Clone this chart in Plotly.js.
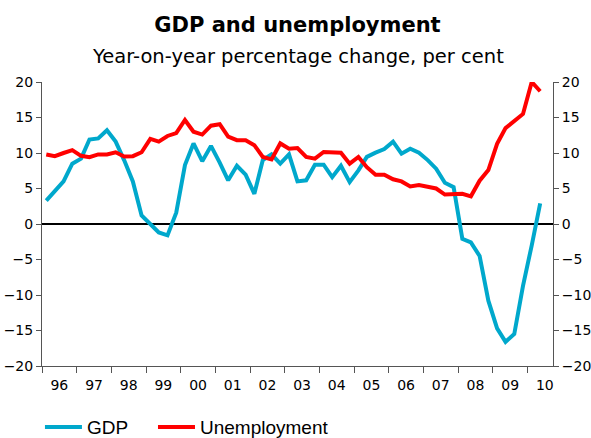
<!DOCTYPE html>
<html>
<head>
<meta charset="utf-8">
<script src="https://cdn.plot.ly/plotly-3.0.1.min.js"></script>
<style>
  html, body { margin: 0; padding: 0; background: #fff; }
  #chart { width: 591px; height: 438px; }
</style>
</head>
<body>
<div id="chart"></div>
<script>
// Quarterly data, 1996Q1 - 2010Q2
const startYear = 1996;
const nQuarters = 58;

const gdp = [
  3.3, 4.7, 6.0, 8.5, 9.2, 11.9, 12.05, 13.2, 11.6, 9.0,
  6.0, 1.2, 0.0, -1.2, -1.6, 1.6, 8.3, 11.35, 8.85, 11.0,
  8.65, 6.15, 8.2, 6.95, 4.25, 9.0, 9.8, 8.5, 9.8, 6.0,
  6.15, 8.35, 8.35, 6.6, 8.2, 5.9, 7.55, 9.45, 10.05, 10.55,
  11.6, 9.9, 10.6, 10.05, 9.0, 7.8, 5.8, 5.2, -2.1, -2.6,
  -4.5, -10.8, -14.7, -16.6, -15.5, -8.7, -3.0, 2.9
];

const unemployment = [
  9.8, 9.55, 10.0, 10.4, 9.6, 9.4, 9.8, 9.8, 10.1, 9.5,
  9.55, 10.1, 12.0, 11.6, 12.4, 12.8, 14.65, 13.0, 12.6, 13.85,
  14.05, 12.3, 11.8, 11.8, 11.1, 9.45, 9.1, 11.35, 10.6, 10.7,
  9.45, 9.2, 10.15, 10.05, 10.05, 8.5, 9.45, 8.0, 6.95, 6.95,
  6.3, 6.0, 5.3, 5.5, 5.2, 5.0, 4.15, 4.15, 4.25, 3.9,
  6.1, 7.6, 11.3, 13.5, 14.5, 15.5, 20.0, 18.7
];

const titleText = 'GDP and unemployment';
const subtitleText = 'Year-on-year percentage change, per cent';

// quarter categories -> mid-quarter dates
const quarters = [];
for (let i = 0; i < nQuarters; i++) {
  const y = startYear + Math.floor(i / 4);
  const m = 3 * (i % 4) + 2;
  quarters.push(y + '-' + String(m).padStart(2, '0') + '-15');
}

const FONT = 'DejaVu Sans, Verdana, sans-serif';
const LEGEND_FONT = { family: 'Liberation Sans, Arial, sans-serif', size: 19, color: '#000' };
const GDP_COLOR = '#00a8cc';
const UNEMP_COLOR = '#ff0000';

const traces = [
  {
    x: quarters, y: gdp, name: 'GDP', type: 'scatter', mode: 'lines',
    line: { color: GDP_COLOR, width: 4 }, yaxis: 'y', legend: 'legend'
  },
  {
    x: quarters, y: unemployment, name: 'Unemployment', type: 'scatter', mode: 'lines',
    line: { color: UNEMP_COLOR, width: 4 }, yaxis: 'y2', legend: 'legend2'
  }
];

const yCommon = {
  range: [-20, 20], dtick: 5, tick0: 0,
  ticks: 'outside', ticklen: 5, tickcolor: '#555', tickwidth: 1,
  showline: true, linecolor: '#555', linewidth: 1,
  showgrid: false, fixedrange: true,
  tickfont: { family: FONT, size: 14, color: '#000' }
};

const legendCommon = {
  orientation: 'h', xanchor: 'left', xref: 'paper',
  y: -0.215, yanchor: 'middle',
  itemwidth: 37,
  font: LEGEND_FONT,
  bgcolor: 'rgba(0,0,0,0)', borderwidth: 0
};

const layout = {
  width: 591, height: 438,
  paper_bgcolor: '#fff', plot_bgcolor: '#fff',
  margin: { l: 42, r: 38, t: 82, b: 72, autoexpand: false },
  title: {
    text: '<b>' + titleText + '</b>',
    font: { family: FONT, size: 21, color: '#000' },
    x: 0.5, xref: 'paper', xanchor: 'center',
    y: 0.944, yref: 'container', yanchor: 'middle'
  },
  annotations: [{
    text: subtitleText, showarrow: false,
    xref: 'paper', yref: 'paper', x: 0.5, y: 1.0915,
    xanchor: 'center', yanchor: 'middle',
    font: { family: FONT, size: 19.5, color: '#000' }
  }],
  xaxis: {
    type: 'date',
    range: ['1996-01-01', '2010-09-27'],
    tick0: '1996-01-01', dtick: 'M12',
    tickformat: '%y', ticklabelmode: 'period',
    ticks: 'outside', ticklen: 6, tickcolor: '#555',
    showline: true, linecolor: '#555', linewidth: 1,
    showgrid: false, zeroline: false,
    tickfont: { family: FONT, size: 14, color: '#000' }
  },
  yaxis: Object.assign({}, yCommon, {
    side: 'left', zeroline: true, zerolinecolor: '#000', zerolinewidth: 1.5
  }),
  yaxis2: Object.assign({}, yCommon, {
    side: 'right', overlaying: 'y', zeroline: false
  }),
  showlegend: true,
  legend: Object.assign({}, legendCommon, { x: -0.004 }),
  legend2: Object.assign({}, legendCommon, { x: 0.2172 })
};

Plotly.newPlot('chart', traces, layout, { staticPlot: true, displayModeBar: false });
</script>
</body>
</html>
